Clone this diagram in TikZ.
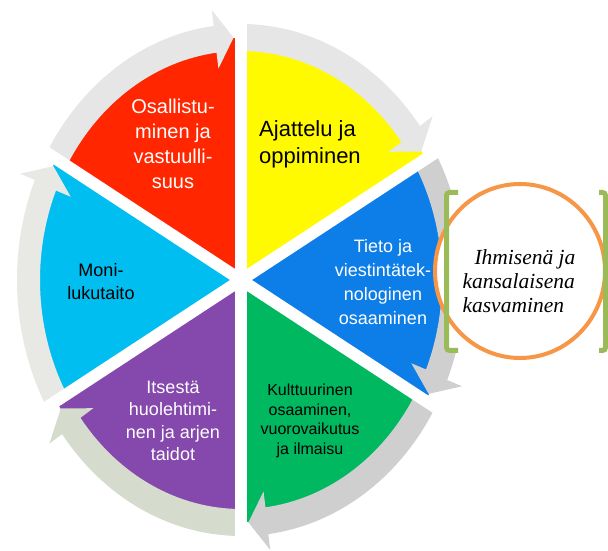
\documentclass[tikz,border=0pt]{standalone}
\usepackage{fontspec}
\setmainfont{Liberation Sans}
\newfontfamily\kasvufont{Liberation Serif}
\definecolor{secred}{HTML}{FF2600}
\definecolor{secyellow}{HTML}{FFFA00}
\definecolor{secblue}{HTML}{0D7DE8}
\definecolor{seccyan}{HTML}{00BEF0}
\definecolor{secpurple}{HTML}{8548AC}
\definecolor{secgreen}{HTML}{00B860}
\definecolor{ringlight}{HTML}{E6E6E6}
\definecolor{ringdark}{HTML}{CFCFCF}
\definecolor{ringsage}{HTML}{D5DCCE}
\definecolor{ringpale}{HTML}{E8E8E5}
\definecolor{kasvuorange}{HTML}{F79646}
\definecolor{bracketgreen}{HTML}{9BBB59}

\begin{document}
\begin{tikzpicture}[x=1pt,y=1pt,
    ringgap/.style={white, line width=12pt},
    bracketline/.style={bracketgreen, line width=5pt, rounded corners=3pt},
    wheeltext/.style={align=center, inner sep=0pt}]
            \useasboundingbox (0,0) rectangle (608,551);
            \begin{scope}[shift={(241,271)}]
            % sectors
            \foreach \sa/\ea/\col in {90/150/secred, 30/90/secyellow, -30/30/secblue, -90/-30/secgreen, -150/-90/secpurple, 150/210/seccyan}
                \fill[\col] (0,0) -- (\sa:213pt and 242pt) arc[start angle=\sa, end angle=\ea, x radius=213pt, y radius=242pt] -- cycle;
            % ring arrows, clockwise
            \foreach \sa/\ea/\col in {150/90/ringlight, 90/30/ringlight, 30/-30/ringdark, -30/-90/ringdark, -90/-150/ringsage, -150/-210/ringpale}{
                \pgfmathsetmacro{\bk}{\ea+7}
                \pgfmathsetmacro{\tp}{\ea+2}
                \fill[\col] (\sa:224pt and 256pt) arc[start angle=\sa, end angle=\bk, x radius=224pt, y radius=256pt]
                    -- (\bk:240pt and 272pt) -- (\tp:212.5pt and 242.5pt) -- (\bk:185pt and 213pt)
                    -- (\bk:201pt and 229pt) arc[start angle=\bk, end angle=\sa, x radius=201pt, y radius=229pt] -- cycle;
            }
            \draw[ringgap] (90:300pt and 300pt) -- (-90:300pt and 300pt);
            \draw[ringgap] (30:260pt and 295pt) -- (210:260pt and 295pt);
            \draw[ringgap] (150:260pt and 295pt) -- (-30:260pt and 295pt);
            \end{scope}
            % circle with brackets
            \fill[white] (446.5,200.5) rectangle (605.5,358.5);
            \filldraw[fill=white, draw=kasvuorange, line width=4pt] (520,280) ellipse [x radius=85pt, y radius=87pt];
            \draw[bracketline] (458,358.5) -- (446.5,358.5) -- (446.5,200.5) -- (458,200.5);
            \draw[bracketline] (599,358.5) -- (605.5,358.5) -- (605.5,200.5) -- (599,200.5);
            \node[wheeltext, white, font=\fontsize{20}{25}\selectfont] (osallistuminen) at (173,407) {Osallistu-\\minen ja\\vastuulli-\\suus};
            \node[wheeltext, align=left, font=\fontsize{22}{27}\selectfont] (ajattelu) at (310,407) {Ajattelu ja\\oppiminen};
            \node[wheeltext, white, font=\fontsize{18}{24}\selectfont] (tieto) at (383,269) {Tieto ja\\viestintätek-\\nologinen\\osaaminen};
            \node[wheeltext, font=\fontsize{18}{23}\selectfont] (monilukutaito) at (101,269) {Moni-\\lukutaito};
            \node[wheeltext, white, font=\fontsize{18}{22.5}\selectfont] (itsesta) at (173,130) {Itsestä\\huolehtimi-\\nen ja arjen\\taidot};
            \node[wheeltext, font=\fontsize{16}{19.5}\selectfont] (kulttuurinen) at (310,130) {Kulttuurinen\\osaaminen,\\vuorovaikutus\\ja ilmaisu};
            \node[wheeltext, align=left, font=\kasvufont\itshape\fontsize{21.5}{24}\selectfont] (kasvaminen) at (519,270) {\hspace*{12pt}Ihmisenä ja\\kansalaisena\\kasvaminen};
        \end{tikzpicture}
\end{document}
